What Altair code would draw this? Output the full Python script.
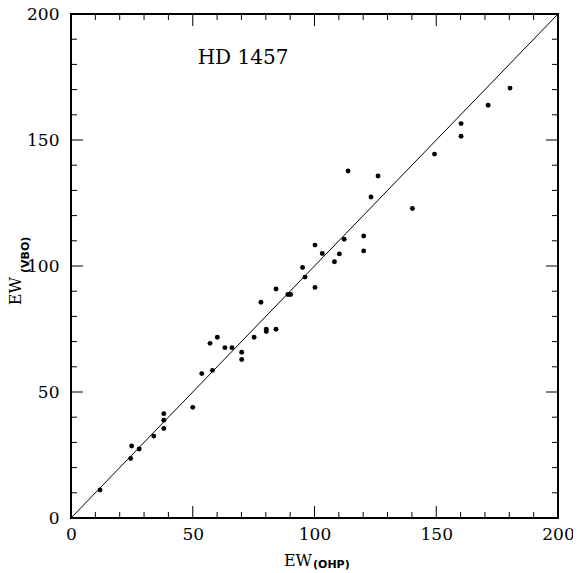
import altair as alt
import pandas as pd

# Equivalent widths: OHP (x) vs VBO (y)
ew_ohp = [11.9, 24.9, 24.5, 28.0, 34.0, 38.1, 38.1, 38.1, 50.0, 53.7, 57.1, 58.1, 60.1,
          63.2, 66.1, 70.1, 70.1, 75.2, 78.0, 80.2, 80.2, 84.2, 84.2, 89.1, 90.2, 95.1,
          96.1, 100.2, 100.2, 103.2, 108.2, 110.2, 112.2, 113.8, 120.2, 120.2, 123.2,
          126.1, 140.2, 149.3, 160.2, 160.2, 171.3, 180.3]
ew_vbo = [11.1, 28.6, 23.6, 27.4, 32.5, 41.4, 38.8, 35.5, 43.9, 57.3, 69.3, 58.6, 71.7,
          67.6, 67.6, 65.8, 62.9, 71.7, 85.6, 74.9, 74.0, 90.9, 74.9, 88.7, 88.7, 99.4,
          95.6, 108.3, 91.5, 105.0, 101.7, 104.8, 110.6, 137.7, 111.9, 106.0, 127.4,
          135.7, 122.8, 144.4, 156.5, 151.5, 163.8, 170.6]
diag = [0, 200]
tick_labels = [0, 50, 100, 150, 200]
major_ticks = [50, 100, 150]
minor_ticks = [10, 20, 30, 40, 60, 70, 80, 90, 110, 120, 130, 140, 160, 170, 180, 190]
star = "HD 1457"

W, H = 487, 504
MAJ, MIN = 12, 6
SERIF = "DejaVu Serif"

xs = alt.Scale(domain=[0, 200], nice=False, zero=False)
ys = alt.Scale(domain=[0, 200], nice=False, zero=False)
xaxis = alt.Axis(values=tick_labels, ticks=False, domain=False, grid=False,
                 labelFont=SERIF, labelFontSize=17, labelPadding=8, labelFlush=False,
                 labelColor="black", labelOverlap=False, title=None, format="d")
yaxis = alt.Axis(values=tick_labels, ticks=False, domain=False, grid=False,
                 labelFont=SERIF, labelFontSize=17, labelPadding=12, labelFlush=False,
                 labelColor="black", labelOverlap=False, title=None, format="d")

pts = pd.DataFrame({"x": ew_ohp, "y": ew_vbo})
line_df = pd.DataFrame({"x": diag, "y": diag})

points = alt.Chart(pts).mark_circle(color="black", opacity=1, size=24).encode(
    x=alt.X("x:Q", scale=xs, axis=xaxis),
    y=alt.Y("y:Q", scale=ys, axis=yaxis),
)
line = alt.Chart(line_df).mark_line(color="black", strokeWidth=1).encode(
    x=alt.X("x:Q", scale=xs, axis=xaxis),
    y=alt.Y("y:Q", scale=ys, axis=yaxis),
)


def xticks(vals, ln):
    df = pd.DataFrame({"x": vals})
    bottom = alt.Chart(df).mark_rule(color="black", strokeWidth=1).encode(
        x=alt.X("x:Q", scale=xs, axis=xaxis), y=alt.value(H), y2=alt.value(H - ln))
    top = alt.Chart(df).mark_rule(color="black", strokeWidth=1).encode(
        x=alt.X("x:Q", scale=xs, axis=xaxis), y=alt.value(0), y2=alt.value(ln))
    return [bottom, top]


def yticks(vals, ln):
    df = pd.DataFrame({"y": vals})
    left = alt.Chart(df).mark_rule(color="black", strokeWidth=1).encode(
        y=alt.Y("y:Q", scale=ys, axis=yaxis), x=alt.value(0), x2=alt.value(ln))
    right = alt.Chart(df).mark_rule(color="black", strokeWidth=1).encode(
        y=alt.Y("y:Q", scale=ys, axis=yaxis), x=alt.value(W), x2=alt.value(W - ln))
    return [left, right]


def label(text, x, y, size, font=SERIF, angle=0, align="center", baseline="middle", weight="normal"):
    return alt.Chart(pd.DataFrame({"t": [text]})).mark_text(
        font=font, fontSize=size, angle=angle, align=align, baseline=baseline,
        fontWeight=weight, color="black"
    ).encode(text="t:N", x=alt.value(x), y=alt.value(y))


texts = [
    label(star, 172, 44, 20),
    label("EW", 241, 552, 16, align="right", baseline="alphabetic"),
    label("(OHP)", 242, 554, 11, font="DejaVu Sans", align="left", baseline="alphabetic", weight="bold"),
    label("EW", -50, 263, 16, angle=270, align="right", baseline="alphabetic"),
    label("(VBO)", -42, 259, 11, font="DejaVu Sans", angle=270, align="left", baseline="alphabetic", weight="bold"),
]

chart = alt.layer(
    line, points,
    *xticks(major_ticks, MAJ), *xticks(minor_ticks, MIN),
    *yticks(major_ticks, MAJ), *yticks(minor_ticks, MIN),
    *texts,
).properties(
    width=W, height=H,
    autosize=alt.AutoSizeParams(type="none"),
    padding={"left": 63, "top": 6, "right": 15, "bottom": 52},
    background="white",
).configure_view(stroke="black", strokeWidth=2)

chart.save("out.html", embed_options={"renderer": "svg", "actions": False})
